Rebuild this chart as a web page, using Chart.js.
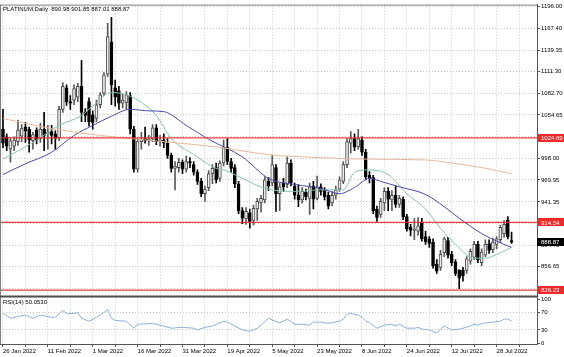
<!DOCTYPE html>
<html><head><meta charset="utf-8">
<script src="https://cdn.jsdelivr.net/npm/chart.js@4/dist/chart.umd.min.js"></script>
<style>html,body{margin:0;padding:0;background:#fff;overflow:hidden}#wrap{width:564px;height:357px;position:relative}</style>
</head><body><div id="wrap"><canvas id="c" width="564" height="357"></canvas></div>
<script>
const dates = ['26 Jan 2022','27 Jan 2022','28 Jan 2022','31 Jan 2022',
'1 Feb 2022','2 Feb 2022','3 Feb 2022','4 Feb 2022','7 Feb 2022','8 Feb 2022','9 Feb 2022','10 Feb 2022','11 Feb 2022','14 Feb 2022','15 Feb 2022','16 Feb 2022','17 Feb 2022','18 Feb 2022','21 Feb 2022','22 Feb 2022','23 Feb 2022','24 Feb 2022','25 Feb 2022','28 Feb 2022',
'1 Mar 2022','2 Mar 2022','3 Mar 2022','4 Mar 2022','7 Mar 2022','8 Mar 2022','9 Mar 2022','10 Mar 2022','11 Mar 2022','13 Mar 2022','14 Mar 2022','15 Mar 2022','16 Mar 2022','17 Mar 2022','18 Mar 2022','21 Mar 2022','22 Mar 2022','23 Mar 2022','24 Mar 2022','25 Mar 2022','27 Mar 2022','28 Mar 2022','29 Mar 2022','30 Mar 2022','31 Mar 2022',
'1 Apr 2022','4 Apr 2022','5 Apr 2022','6 Apr 2022','7 Apr 2022','8 Apr 2022','11 Apr 2022','12 Apr 2022','13 Apr 2022','14 Apr 2022','18 Apr 2022','19 Apr 2022','20 Apr 2022','21 Apr 2022','22 Apr 2022','25 Apr 2022','26 Apr 2022','27 Apr 2022','28 Apr 2022','29 Apr 2022',
'2 May 2022','3 May 2022','4 May 2022','5 May 2022','6 May 2022','9 May 2022','10 May 2022','11 May 2022','12 May 2022','13 May 2022','16 May 2022','17 May 2022','18 May 2022','19 May 2022','20 May 2022','23 May 2022','24 May 2022','25 May 2022','26 May 2022','27 May 2022','30 May 2022','31 May 2022',
'1 Jun 2022','2 Jun 2022','3 Jun 2022','6 Jun 2022','7 Jun 2022','8 Jun 2022','9 Jun 2022','10 Jun 2022','13 Jun 2022','14 Jun 2022','15 Jun 2022','16 Jun 2022','17 Jun 2022','20 Jun 2022','21 Jun 2022','22 Jun 2022','23 Jun 2022','24 Jun 2022','27 Jun 2022','28 Jun 2022','29 Jun 2022','30 Jun 2022',
'1 Jul 2022','4 Jul 2022','5 Jul 2022','6 Jul 2022','7 Jul 2022','8 Jul 2022','11 Jul 2022','12 Jul 2022','13 Jul 2022','14 Jul 2022','15 Jul 2022','18 Jul 2022','19 Jul 2022','20 Jul 2022','21 Jul 2022','22 Jul 2022','25 Jul 2022','26 Jul 2022','27 Jul 2022','28 Jul 2022','29 Jul 2022',
'1 Aug 2022','2 Aug 2022','3 Aug 2022'];

const open = [1036,1026,1010,1014,1020,1027,1039,1036,1021,1035,1024,1036,1030,1033,1030,1025,1062,1090,1072,1074,1078,1092,1058,1072,1055,1050,1068,1083,1108,1150,
1090,1086,1070,1071,1080,1036,984,1020,1024,1021,1023,1038,1020,1022,1018,1002,985,986,993,984,994,990,980,968,952,960,978,986,972,992,
1012,994,986,965,930,919,927,917,932,940,944,968,966,986,952,966,964,992,962,950,944,954,946,962,946,961,956,950,940,950,
958,968,990,1018,1024,1013,1022,1006,976,973,932,925,940,955,944,950,938,945,922,908,904,903,915,896,893,889,860,856,875,891,
873,863,852,852,852,864,869,886,862,872,887,879,886,892,900,918,890.98];
const high = [1062,1030,1025,1026,1048,1042,1045,1039,1032,1038,1044,1058,1041,1041,1034,1066,1097,1094,1080,1094,1096,1126,1063,1077,1060,1074,1084,1110,1174,1182,
1100,1092,1082,1085,1084,1040,1024,1032,1039,1028,1042,1042,1028,1030,1024,1005,994,998,996,1001,999,994,983,972,962,982,990,992,995,1022,
1024,998,990,968,934,934,932,937,946,950,974,973,1002,990,966,972,1000,996,966,964,960,958,966,968,975,965,960,954,955,962,
974,994,1024,1033,1030,1036,1026,1010,981,976,936,946,960,960,956,962,950,948,925,912,920,921,920,903,896,893,866,878,895,895,
877,866,853,856,870,880,890,890,880,892,892,894,896,911,917,922,901.85];
const low = [1012,1008,993,1008,1015,1020,1019,1006,1010,1017,1019,1008,1010,1017,1010,1021,1058,1067,1062,1068,1072,1046,1046,1040,1036,1046,1064,1080,1105,1068,
1066,1062,1064,1062,1030,980,980,1010,1018,1015,1020,1016,1014,1012,998,980,957,980,978,980,986,976,964,948,942,956,965,966,968,988,
990,980,960,926,913,912,907,911,917,928,940,956,962,929,930,955,960,962,945,935,940,944,925,932,944,950,944,932,936,945,
955,965,986,1005,1008,1010,1002,970,966,926,916,921,930,930,930,934,934,918,903,897,892,898,890,886,882,855,848,852,870,868,
858,845,828,838,848,860,866,862,858,870,874,875,880,888,895,893,887.01];
const close = [1018,1014,1021,1022,1035,1037,1034,1022,1029,1022,1036,1028,1032,1028,1024,1062,1092,1072,1070,1089,1092,1058,1054,1046,1045,1068,1081,1107,1157,1094,
1078,1070,1074,1081,1036,984,1020,1023,1021,1023,1038,1020,1022,1018,1002,985,988,993,984,994,992,980,968,952,958,978,985,970,992,1012,
994,985,965,930,920,929,916,933,942,946,970,962,990,952,961,961,992,966,950,944,955,948,961,945,961,955,948,936,950,957,
970,990,1020,1024,1013,1024,1006,974,972,930,921,942,955,945,950,938,946,922,906,904,906,910,893,889,887,858,851,873,893,872,
862,848,842,845,867,877,886,866,876,886,878,889,893,908,912,896,888.87];

const maSlowIdx = [0,13,26,36,47,57,71,85,98,113,120,128,136];
const maSlowVal = [1050,1037,1028,1023,1018,1013,1003,999,997,996,992,986,978];
const maMidIdx = [0,6,13,19,24,29,34,39,43,49,55,64,71,78,85,90,94,98,101,106,113,118,122,128,133,136];
const maMidVal = [977,991,1006,1028,1041,1053,1062,1060,1059,1041,1023,1000,972,964,959,952,960,972,968,961,951,935,920,900,888,882];
const maFastIdx = [0,8,15,21,25,29,33,37,41,45,51,57,59,64,70,78,85,91,94,98,103,108,113,117,121,126,129,133,136];
const maFastVal = [997,1019,1041,1054,1071,1084,1081,1071,1054,1024,1003,985,983,972,959,955,957,957,980,983,977,952,932,907,886,868,868,875,882];

const rsiIdx = [0,2,6,8,10,13,14,16,17,19,20,21,23,25,27,28,29,30,33,35,36,40,42,45,48,51,52,54,56,59,60,64,66,68,69,71,72,74,76,78,80,82,83,85,87,90,91,92,93,95,96,97,98,100,102,104,105,106,108,110,111,112,114,116,117,118,120,122,124,126,127,128,131,133,134,135,136];
const rsiVal = [68,57,64,57,64,59,59,75,68,68,70,57,50,59,70,77,57,52,50,34,43,45,41,34,36,34,30,36,39,50,48,30,27,34,41,57,53,46,55,43,43,41,48,48,45,50,55,66,68,64,59,50,47,34,41,43,39,43,34,34,36,32,30,23,32,39,30,32,36,43,41,45,48,50,55,55,50.05];

const levels = [1024.69, 914.54, 826.23];
const lastPrice = 888.87;
const priceTicks = [1196.00,1167.40,1139.35,1111.30,1082.70,1054.65,1026.60,998.00,969.95,941.35,913.30,884.70,856.65,828.60];
const rsiTicks = [100,70,30,0];
const xTickStep = 6, xLabelStep = 12;
const titleText = 'PLATINUM,Daily  890.98 901.85 887.01 888.87';
const rsiText = 'RSI(14) 50.0530';

const FONT = 'Liberation Sans';
const XMIN = -0.8, XMAX = 142.8;
const bull = close.map((c,i)=> c >= open[i]);

const pts = (idx, val) => idx.map((x,k)=>({x, y: val[k]}));
const datasets = [];
levels.forEach(v => datasets.push({type:'line', data:[{x:XMIN,y:v},{x:XMAX,y:v}], yAxisID:'y', borderColor:'rgba(236,40,40,0.9)', borderWidth:1.3, pointRadius:0, order:1}));
datasets.push({type:'line', data:pts(maSlowIdx, maSlowVal), yAxisID:'y', borderColor:'#e8b89a', borderWidth:1, pointRadius:0, cubicInterpolationMode:'monotone', order:2});
datasets.push({type:'line', data:pts(maMidIdx, maMidVal), yAxisID:'y', borderColor:'#4b4bab', borderWidth:1, pointRadius:0, cubicInterpolationMode:'monotone', order:2});
datasets.push({type:'line', data:pts(maFastIdx, maFastVal), yAxisID:'y', borderColor:'#86c6a6', borderWidth:1, pointRadius:0, cubicInterpolationMode:'monotone', order:2});
datasets.push({type:'bar', data:dates.map((d,i)=>({x:i, y:[low[i], high[i]]})), yAxisID:'y', grouped:false, barThickness:1,
  backgroundColor: bull.map(b=> b ? '#5a5a5a' : '#000'), order:5});
datasets.push({type:'bar', data:dates.map((d,i)=>({x:i, y:[open[i], close[i]]})), yAxisID:'y', grouped:false, barThickness:3,
  backgroundColor: bull.map(b=> b ? '#ececec' : '#000'), borderColor: bull.map(b=> b ? '#4a4a4a' : '#000'), borderWidth:1, borderSkipped:false, order:4});
datasets.push({type:'line', data:pts(rsiIdx, rsiVal), yAxisID:'rsi', borderColor:'#8ab2de', borderWidth:1, pointRadius:0, tension:0, order:0});

const gridCol = '#c8c8c8';
const tickFont = {family: FONT, size: 6};

const overlay = {
  id:'overlay',
  afterDraw(chart){
    const ctx = chart.ctx, ca = chart.chartArea, y = chart.scales.y;
    ctx.save();
    ctx.fillStyle = '#808080';
    ctx.fillRect(ca.left, ca.top, ca.right - ca.left, 1);
    ctx.fillRect(ca.left, ca.top, 1, ca.bottom - ca.top);
    ctx.fillStyle = '#4c4c4c';
    ctx.fillRect(ca.left, y.bottom, ca.right - ca.left, 2);
    ctx.font = '6px "' + FONT + '"';
    ctx.textBaseline = 'middle';
    ctx.textAlign = 'left';
    ctx.fillStyle = '#000';
    ctx.fillText(titleText, ca.left + 3, ca.top + 5);
    ctx.fillText(rsiText, ca.left + 3, y.bottom + 7);
    const box = (v, bg) => {
      const py = y.getPixelForValue(v);
      ctx.fillStyle = bg;
      ctx.fillRect(ca.right, Math.round(py) - 4, chart.width - ca.right, 8);
      ctx.fillStyle = '#fff';
      ctx.fillText(v.toFixed(2), ca.right + 4, py + 0.5);
    };
    levels.forEach(v => box(v, '#ee2a2a'));
    box(lastPrice, '#000');
    ctx.restore();
  }
};

new Chart(document.getElementById('c'), {
  type:'bar',
  data:{datasets},
  options:{
    responsive:false, animation:false, devicePixelRatio:1,
    layout:{padding:{top:1,left:0,right:0,bottom:0}},
    plugins:{legend:{display:false}, tooltip:{enabled:false}},
    scales:{
      x:{type:'linear', min:XMIN, max:XMAX, offset:false, position:'bottom',
        afterBuildTicks:s=>{ const t=[]; for(let i=0;i<=XMAX;i+=xTickStep) t.push({value:i}); s.ticks=t; },
        afterFit:s=>{ s.height = 13; },
        ticks:{autoSkip:false, maxRotation:0, minRotation:0, align:'start', padding:1, font:tickFont, color:'#000',
          callback:(v)=> (v % xLabelStep === 0 && dates[v]) ? dates[v] : ''},
        grid:{color:gridCol, offset:false, drawTicks:true, tickLength:3, tickColor:'#555'},
        border:{display:true, color:'#555', width:1, dash:[1,2]}
      },
      y:{type:'linear', position:'right', stack:'panes', stackWeight:294, min:819.23, max:1198.58,
        afterBuildTicks:s=>{ s.ticks = priceTicks.map(v=>({value:v})); },
        afterFit:s=>{ s.width = 27; },
        ticks:{autoSkip:false, padding:1, font:tickFont, color:'#000', callback:v=>Number(v).toFixed(2)},
        grid:{color:gridCol, drawTicks:true, tickLength:3, tickColor:'#555'},
        border:{display:true, color:'#555', width:1, dash:[1,2]}
      },
      rsi:{type:'linear', position:'right', stack:'panes', stackWeight:49, min:-2.27, max:109.1,
        afterBuildTicks:s=>{ s.ticks = rsiTicks.map(v=>({value:v})); },
        afterFit:s=>{ s.width = 27; },
        ticks:{autoSkip:false, padding:1, font:tickFont, color:'#000', callback:v=>String(v)},
        grid:{color:c=> (c.tick && (c.tick.value===70 || c.tick.value===30)) ? gridCol : 'rgba(0,0,0,0)', drawTicks:true, tickLength:3, tickColor:'#555'},
        border:{display:true, color:'#555', width:1, dash:[1,2]}
      }
    }
  },
  plugins:[overlay]
});
</script></body></html>
